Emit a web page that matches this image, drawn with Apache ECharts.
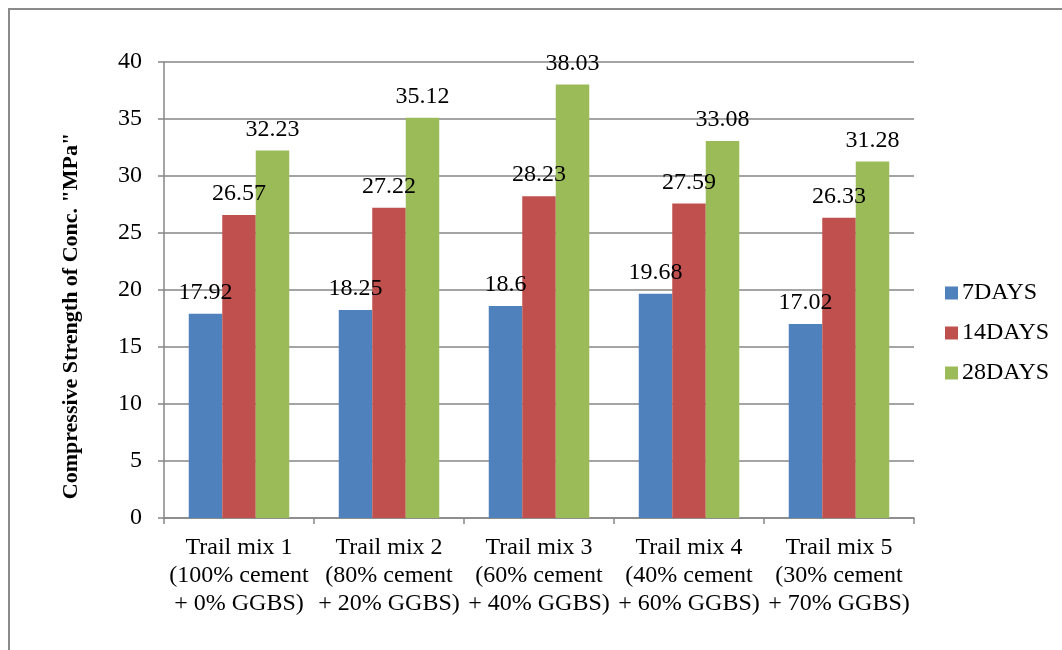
<!DOCTYPE html>
<html>
<head>
<meta charset="utf-8">
<script src="https://cdn.jsdelivr.net/npm/echarts@6/dist/echarts.min.js"></script>
<style>html,body{margin:0;padding:0;background:#fff}#c{width:1062px;height:650px}</style>
</head>
<body>
<div id="c"></div>
<script>
const categories = [
  "Trail mix 1\n(100% cement\n+ 0% GGBS)",
  "Trail mix 2\n(80% cement\n+ 20% GGBS)",
  "Trail mix 3\n(60% cement\n+ 40% GGBS)",
  "Trail mix 4\n(40% cement\n+ 60% GGBS)",
  "Trail mix 5\n(30% cement\n+ 70% GGBS)"
];
const seriesNames = ["7DAYS", "14DAYS", "28DAYS"];
const days7 = [17.92, 18.25, 18.6, 19.68, 17.02];
const days14 = [26.57, 27.22, 28.23, 27.59, 26.33];
const days28 = [32.23, 35.12, 38.03, 33.08, 31.28];
const yTitle = 'Compressive Strength of Conc. "MPa"';
const colors = ["#4F81BD", "#C0504D", "#9BBB59"];

const font = "'Liberation Serif', 'DejaVu Serif', serif";
const chart = echarts.init(document.getElementById('c'), null, {renderer: 'canvas'});
const mk = (name, data, color) => ({
  name, type: 'bar', data, barGap: 0, barCategoryGap: '33%',
  itemStyle: {color},
  label: {show: true, position: 'top', distance: 9, color: '#000', fontSize: 24, fontFamily: font}
});
chart.setOption({
  animation: false,
  textStyle: {fontFamily: font},
  graphic: [
    {type: 'rect', shape: {x: 9, y: 9, width: 1100, height: 700},
      style: {fill: 'none', stroke: '#8a8a8a', lineWidth: 2}, silent: true},
    {type: 'text', x: 71, y: 316, rotation: Math.PI / 2,
      style: {text: yTitle, fontSize: 22, fontWeight: 'bold', fontFamily: font, fill: '#000',
        align: 'center', verticalAlign: 'middle'}, silent: true}
  ],
  grid: {left: 164, right: 148, top: 62, bottom: 132},
  legend: {
    orient: 'vertical', left: 940, top: 276, itemWidth: 13, itemHeight: 13, itemGap: 16,
    icon: 'rect', textStyle: {fontSize: 24, fontFamily: font, color: '#000', padding: [0, 0, 0, -1]},
    data: seriesNames
  },
  xAxis: {
    type: 'category', data: categories,
    axisLine: {lineStyle: {color: '#868686', width: 1.5}},
    axisTick: {show: true, length: 6, lineStyle: {color: '#868686', width: 1.5}},
    axisLabel: {color: '#000', fontSize: 24, fontFamily: font, lineHeight: 28, margin: 16, interval: 0}
  },
  yAxis: {
    type: 'value', min: 0, max: 40, interval: 5,
    axisLine: {show: true, lineStyle: {color: '#868686', width: 1.5}},
    axisTick: {show: true, length: 6, lineStyle: {color: '#868686', width: 1.5}},
    axisLabel: {color: '#000', fontSize: 24, fontFamily: font, margin: 22},
    splitLine: {lineStyle: {color: '#868686', width: 1.5}}
  },
  series: [mk(seriesNames[0], days7, colors[0]), mk(seriesNames[1], days14, colors[1]), mk(seriesNames[2], days28, colors[2])]
});
</script>
</body>
</html>
